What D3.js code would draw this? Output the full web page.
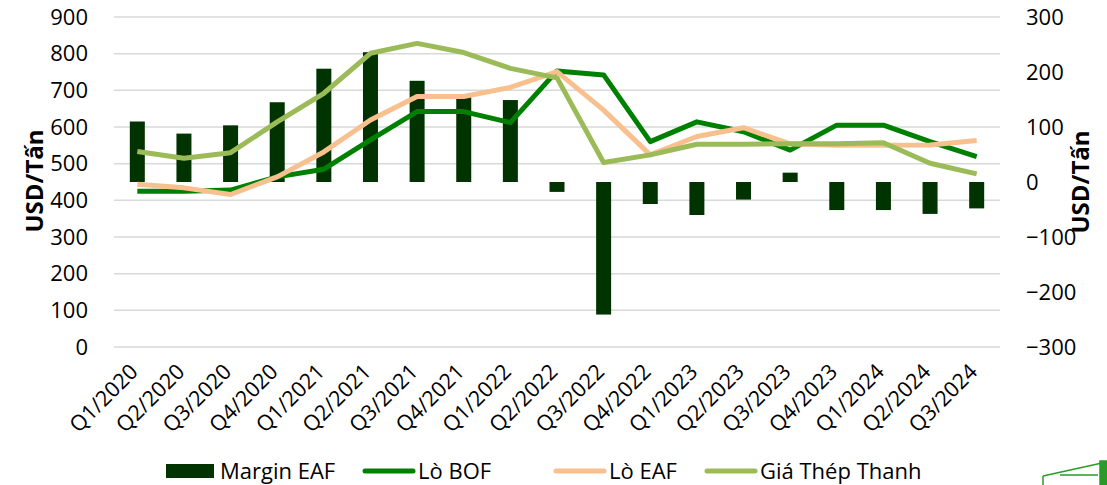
<!DOCTYPE html>
<html>
<head>
  <meta charset='utf-8'>
  <style>
    body { margin: 0; background: #fff; }
    text { font-family: "Open Sans", "Noto Sans", sans-serif; fill: #000; }
  </style>
  <script src="https://cdn.jsdelivr.net/npm/d3@7"></script>
</head>
<body>
  <script>
    const quarters = ["Q1/2020", "Q2/2020", "Q3/2020", "Q4/2020", "Q1/2021", "Q2/2021", "Q3/2021", "Q4/2021",
      "Q1/2022", "Q2/2022", "Q3/2022", "Q4/2022", "Q1/2023", "Q2/2023", "Q3/2023", "Q4/2023",
      "Q1/2024", "Q2/2024", "Q3/2024"];
    const marginEAF = [110, 88, 103, 145, 206, 236, 184, 155, 149, -18, -241, -40, -60, -32, 17, -51, -51, -58, -48];
    const loBOF = [425, 425, 428, 464, 485, 565, 642, 642, 612, 753, 742, 560, 614, 587, 537, 605, 605, 560, 519];
    const loEAF = [444, 434, 416, 464, 532, 619, 683, 683, 708, 751, 646, 524, 574, 598, 554, 550, 550, 551, 563];
    const giaThep = [533, 515, 530, 614, 692, 801, 828, 803, 760, 734, 503, 524, 553, 553, 554, 554, 557, 501, 472];
    const leftTicks = [0, 100, 200, 300, 400, 500, 600, 700, 800, 900];
    const rightTicks = [-300, -200, -100, 0, 100, 200, 300];

    const [width, height] = [1107, 485];
    const svg = d3.select("body").append("svg")
      .attr("width", width).attr("height", height);

    const x = d3.scaleBand().domain(quarters).range([114, 1000]);
    const yL = d3.scaleLinear().domain([0, 900]).range([347, 17]);
    const yR = d3.scaleLinear().domain([-300, 300]).range([347, 17]);

    // grid
    svg.append("g").selectAll("line").data(leftTicks).join("line")
      .attr("x1", 114).attr("x2", 1000)
      .attr("y1", d => yL(d)).attr("y2", d => yL(d))
      .attr("stroke", "#d9d9d9").attr("stroke-width", 1.5);

    // left axis
    const gl = svg.append("g").attr("transform", "translate(96,0)")
      .call(d3.axisLeft(yL).tickValues(leftTicks).tickSize(0).tickPadding(8));
    gl.select(".domain").remove();
    gl.selectAll("text").attr("font-size", 22).style("font-family", "Open Sans").attr("fill", "#000");

    // right axis
    const gr = svg.append("g").attr("transform", "translate(1018,0)")
      .call(d3.axisRight(yR).tickValues(rightTicks).tickSize(0).tickPadding(8));
    gr.select(".domain").remove();
    gr.selectAll("text").attr("font-size", 22).style("font-family", "Open Sans").attr("fill", "#000");

    // axis titles
    svg.append("text").attr("transform", "translate(43,181) rotate(-90)")
      .attr("text-anchor", "middle").attr("font-size", 24).attr("font-weight", "bold")
      .text("USD/Tấn");
    svg.append("text").attr("transform", "translate(1089,182) rotate(-90)")
      .attr("text-anchor", "middle").attr("font-size", 24).attr("font-weight", "bold")
      .text("USD/Tấn");

    // bars
    const bw = 15;
    svg.append("g").selectAll("rect").data(marginEAF).join("rect")
      .attr("x", (d, i) => x(quarters[i]) + x.bandwidth() / 2 - bw / 2)
      .attr("width", bw)
      .attr("y", d => Math.min(yR(d), yR(0)))
      .attr("height", d => Math.abs(yR(d) - yR(0)))
      .attr("fill", "#003300");

    // lines
    const line = d3.line()
      .x((d, i) => x(quarters[i]) + x.bandwidth() / 2)
      .y(d => yL(d));
    const series = [
      { values: loBOF, color: "#008000" },
      { values: loEAF, color: "#f9c08f" },
      { values: giaThep, color: "#9bbb59" }
    ];
    svg.append("g").selectAll("path").data(series).join("path")
      .attr("d", d => line(d.values))
      .attr("fill", "none")
      .attr("stroke", d => d.color)
      .attr("stroke-width", 5)
      .attr("stroke-linejoin", "round");

    // x labels
    svg.append("g").selectAll("text").data(quarters).join("text")
      .attr("transform", d => `translate(${x(d) + x.bandwidth() / 2 + 2},${373}) rotate(-45)`)
      .attr("text-anchor", "end")
      .attr("font-size", 21.5)
      .text(d => d);

    // legend
    const legend = [
      { name: "Margin EAF", color: "#003300", type: "rect", x: 166 },
      { name: "Lò BOF", color: "#008000", type: "line", x: 363 },
      { name: "Lò EAF", color: "#f9c08f", type: "line", x: 554 },
      { name: "Giá Thép Thanh", color: "#9bbb59", type: "line", x: 705 }
    ];
    const lg = svg.append("g").selectAll("g").data(legend).join("g")
      .attr("transform", d => `translate(${d.x},471)`);
    lg.filter(d => d.type === "rect").append("rect")
      .attr("x", 0).attr("y", -7).attr("width", 48).attr("height", 14)
      .attr("fill", d => d.color);
    lg.filter(d => d.type === "line").append("line")
      .attr("x1", 2).attr("x2", 50).attr("y1", 0).attr("y2", 0)
      .attr("stroke", d => d.color).attr("stroke-width", 5).attr("stroke-linecap", "round");
    lg.append("text").attr("x", d => d.type === "rect" ? 54 : 55).attr("y", 8)
      .attr("font-size", 22).text(d => d.name);

    // corner logo fragment
    const logo = svg.append("g").attr("stroke", "#2a9a2a").attr("fill", "none").attr("stroke-width", 1.5);
    logo.append("path").attr("d", "M1043,476 L1102,463 M1043,476 L1043,485 M1060,475 L1098,475");
    logo.append("rect").attr("x", 1100).attr("y", 461).attr("width", 7).attr("height", 24).attr("fill", "#2a9a2a");
  </script>
</body>
</html>
